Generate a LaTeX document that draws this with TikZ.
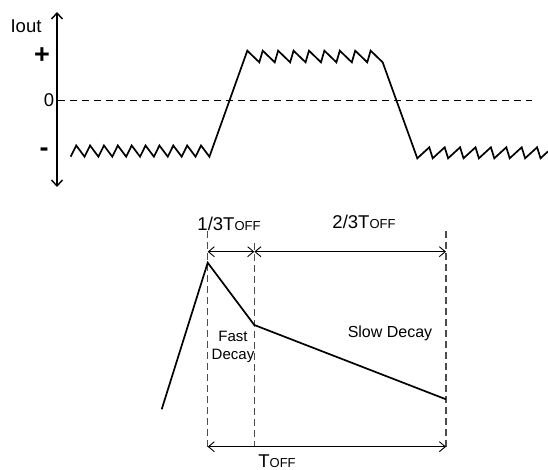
\documentclass[tikz,border=0pt]{standalone}
\usepackage{fontspec}
\setmainfont{Liberation Sans}
\usetikzlibrary{arrows.meta}
\newcommand\offtxt{{\fontsize{13}{13}\selectfont OFF}}
\begin{document}
\begin{tikzpicture}[x=1pt,y=-1pt,
  wave/.style={line width=1.7pt, line join=miter, miter limit=10},
  lbl/.style={inner sep=0pt, font=\fontsize{18.5}{18.5}\selectfont},
  small/.style={inner sep=0pt, font=\fontsize{15}{18}\selectfont, align=center},
  mid/.style={inner sep=0pt, font=\fontsize{16}{16}\selectfont},
  axis/.style={line width=1.4pt, {Straight Barb[length=6pt,width=11pt,line width=1.4pt]}-{Straight Barb[length=6pt,width=11pt,line width=1.4pt]}},
  zero/.style={line width=0.9pt, dash pattern=on 7pt off 5pt},
  guide/.style={line width=1.1pt, draw=black!70, dash pattern=on 7pt off 4pt},
  dim/.style={line width=0.9pt, {Straight Barb[length=6pt,width=10pt,line width=0.9pt]}-{Straight Barb[length=6pt,width=10pt,line width=0.9pt]}}]
\useasboundingbox (0,0) rectangle (548,470);

% ---------- top plot ----------
\coordinate (axT) at (57,12);
\coordinate (axB) at (57,187);
\draw[axis] (axT) -- (axB);
\coordinate (z0) at (58,100);
\coordinate (z1) at (532,100);
\draw[zero] (z0) -- (z1);

\node[lbl] (iout) at (26,26) {Iout};
\node[inner sep=0pt, font=\fontsize{27}{27}\selectfont\bfseries] (plus) at (42,56) {+};
\node[lbl] (zlab) at (49,100) {0};
\node[inner sep=0pt, font=\fontsize{27}{27}\selectfont\bfseries] (minus) at (44,152) {-};

% waveform
\draw[wave] (70.7,156.7)
  \foreach \k in {0,...,9} { -- ({70.7+13.87*\k+5.5},145.5) -- ({70.7+13.87*(\k+1)},156.7) }
  -- (247.3,50.7)
  \foreach \k in {0,...,8} { -- ({259.3+15.42*\k},62.3) \ifnum\k<8 -- ({262.7+15.42*\k},50.7)\fi }
  -- (417.3,158.3)
  \foreach \k in {0,...,7} { -- ({429.3+15.4*\k},147.3) -- ({432.7+15.4*\k},158.3) }
  -- (548,151.4);

% ---------- bottom plot ----------
\coordinate (Lt) at (207.7,231);
\coordinate (Lb) at (207.7,447);
\coordinate (Mt) at (254.3,243);
\coordinate (Mb) at (254.3,447);
\coordinate (Rt) at (446,231);
\coordinate (Rb) at (446,447);
\draw[guide] (Lt) -- (Lb);
\draw[guide] (Mt) -- (Mb);
\draw[guide] (Rt) -- (Rb);

\coordinate (aL) at (207.7,251.7);
\coordinate (aM) at (254.3,251.7);
\coordinate (aR) at (446,251.7);
\draw[dim] (aL) -- (aM);
\draw[dim] (aM) -- (aR);
\coordinate (bL) at (207.7,446.7);
\coordinate (bR) at (446,446.7);
\draw[dim] (bL) -- (bR);

\coordinate (p0) at (161.7,409.3);
\coordinate (p1) at (207.7,262.7);
\coordinate (p2) at (254.3,325);
\coordinate (p3) at (446,399.3);
\draw[wave] (p0) -- (p1) -- (p2) -- (p3);

\node[lbl] (third) at (229,224) {1/3T\offtxt};
\node[lbl] (twothird) at (364,222) {2/3T\offtxt};
\node[small] (fast) at (233,347) {Fast\\Decay};
\node[mid] (slow) at (390,333) {Slow Decay};
\node[lbl] (toff) at (277,461) {T\offtxt};
\end{tikzpicture}
\end{document}
